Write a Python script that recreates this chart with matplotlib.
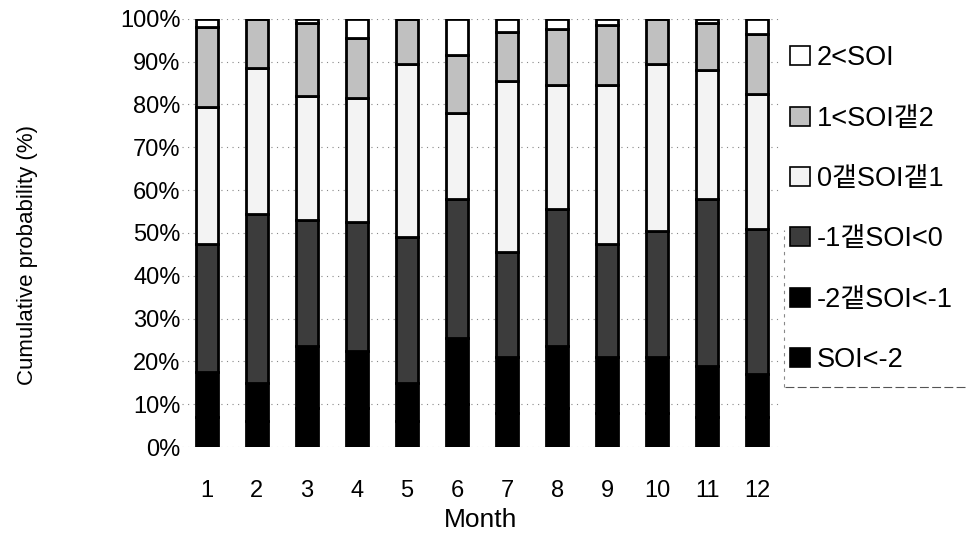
import numpy as np
import matplotlib
matplotlib.use('Agg')
from matplotlib import pyplot as plt
from matplotlib.lines import Line2D

plt.rcParams['font.family'] = ['Liberation Sans', 'Noto Sans CJK KR', 'DejaVu Sans']

months = ['1', '2', '3', '4', '5', '6', '7', '8', '9', '10', '11', '12']

# percentage of each SOI class per month (bottom to top)
soi_lt_m2 = [7, 6, 9, 9, 6, 10, 8, 9, 8, 8, 7, 7]
soi_m2_m1 = [10.5, 9, 14.5, 13.5, 9, 15.5, 13, 14.5, 13, 13, 12, 10]
soi_m1_0 = [30, 39.5, 29.5, 30, 34, 32.5, 24.5, 32, 26.5, 29.5, 39, 34]
soi_0_1 = [32, 34, 29, 29, 40.5, 20, 40, 29, 37, 39, 30, 31.5]
soi_1_2 = [18.5, 11.5, 17, 14, 10.5, 13.5, 11.5, 13, 14, 10.5, 11, 14]
soi_gt_2 = [2, 0, 1, 4.5, 0, 8.5, 3, 2.5, 1.5, 0, 1, 3.5]

labels = ['SOI<-2', '-2갵SOI<-1', '-1갵SOI<0', '0갵SOI갵1', '1<SOI갵2', '2<SOI']
series = [soi_lt_m2, soi_m2_m1, soi_m1_0, soi_0_1, soi_1_2, soi_gt_2]
colors = ['#000000', '#000000', '#3c3c3c', '#f3f3f3', '#c0c0c0', '#ffffff']

fig = plt.figure(figsize=(9.67, 5.36), dpi=100)
ax = fig.add_axes([0.188, 0.166, 0.621, 0.799])

x = np.arange(len(months))
bottom = np.zeros(len(months))
handles = []
for vals, lab, col in zip(series, labels, colors):
    vals = np.array(vals)
    b = ax.bar(x, vals, width=0.44, bottom=bottom, color=col, edgecolor='black',
               linewidth=2, label=lab, zorder=3)
    handles.append(b)
    bottom += vals

ax.set_xlim(-0.5, len(months) - 0.5)
ax.set_ylim(0, 100)
ax.set_yticks(np.arange(0, 101, 10))
ax.set_yticklabels(['{}%'.format(v) for v in range(0, 101, 10)], fontsize=17)
ax.set_xticks(x)
ax.set_xticklabels(months, fontsize=17)
ax.tick_params(axis='y', length=0, pad=1)
ax.tick_params(axis='x', length=0, pad=24)
ax.yaxis.grid(True, linestyle=(0, (1, 4)), color='#888888', linewidth=0.8, zorder=0)
for s in ax.spines.values():
    s.set_visible(False)

fig.text(28 / 967, 0.524, 'Cumulative probability (%)', rotation=90,
         ha='center', va='center', fontsize=16)
fig.text(481 / 967, 1 - 520 / 536, 'Month', ha='center', va='center', fontsize=19)

leg = fig.legend(handles[::-1], labels[::-1], loc='upper left',
                 bbox_to_anchor=(0.806, 0.936), frameon=False, fontsize=19.5,
                 handlelength=0.72, handleheight=0.7, handletextpad=0.25,
                 labelspacing=1.27, borderaxespad=0)
for p in leg.get_patches():
    p.set_linewidth(1.2)

# faint remains of the legend box
fig.add_artist(Line2D([785 / 967, 1.0], [1 - 387 / 536] * 2, color='#555555',
                      linewidth=0.8, linestyle=(0, (8, 3))))
fig.add_artist(Line2D([784 / 967] * 2, [1 - 387 / 536, 1 - 230 / 536], color='#888888',
                      linewidth=0.8, linestyle=(0, (3, 4))))

fig.savefig('out.png', dpi=100)
